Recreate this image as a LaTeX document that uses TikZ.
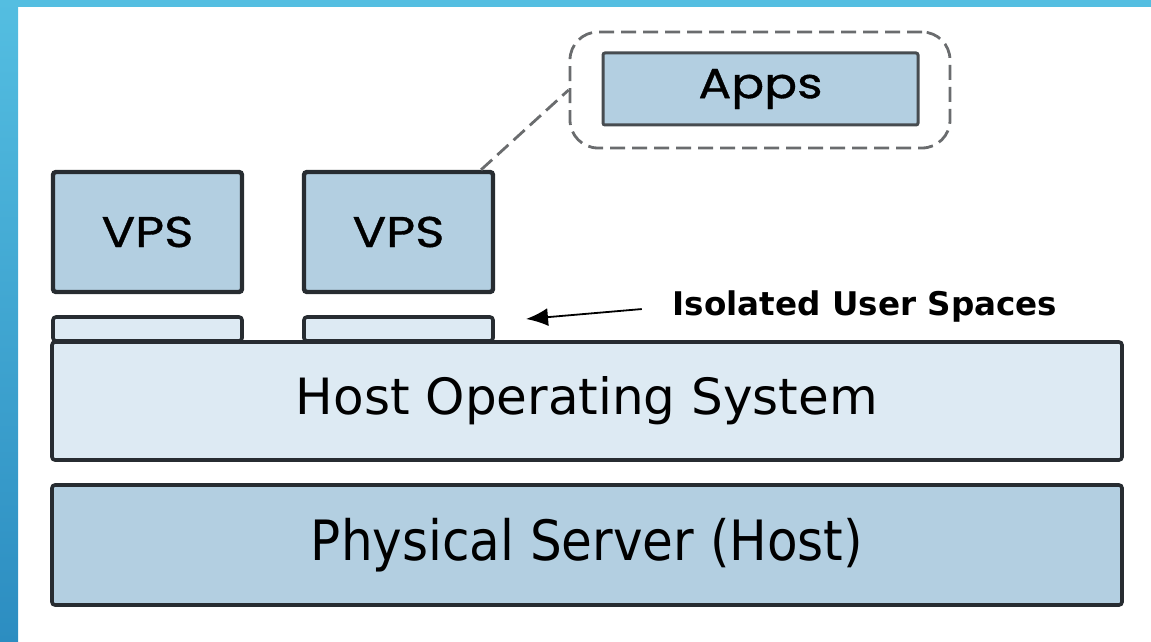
\documentclass[tikz,border=0pt]{standalone}
\usepackage{fontspec}
\usepackage{tikz}
\setmainfont{DejaVu Sans}
\newfontfamily\boxfont[FakeStretch=1.16,FakeBold=0.8]{Poppins}
\newfontfamily\condfont{DejaVu Sans Condensed}
\newcommand*{\picW}{1151}
\newcommand*{\picH}{642}
\usetikzlibrary{positioning}
\usetikzlibrary{calc}
\usetikzlibrary{arrows.meta}
\definecolor{slideblue}{HTML}{54BEE1}
\definecolor{slidedeep}{HTML}{2C8DC1}
\definecolor{vpsfill}{HTML}{B3CFE1}
\definecolor{hostfill}{HTML}{DDEAF3}
\definecolor{edge}{HTML}{272C31}
\definecolor{dashgray}{HTML}{6A6C6E}
\tikzset{
  layer/.style={% wide host / server bars
    draw=edge,
    line width=1.8pt,
    rounded corners=1.5pt,
    minimum width=535pt,
    minimum height=59pt,
    inner sep=0pt
  },
  vpsbox/.style={
    draw=edge,
    fill=vpsfill,
    line width=2.2pt,
    rounded corners=1.5pt,
    minimum width=94.5pt,
    minimum height=60pt,
    inner sep=0pt,
    font=\boxfont\fontsize{21.5}{21.5}\selectfont
  },
  userspace/.style={
    draw=edge,
    fill=hostfill,
    line width=1.8pt,
    rounded corners=1.5pt,
    minimum width=94.5pt,
    minimum height=12pt,
    inner sep=0pt
  },
  groupline/.style={
    draw=dashgray,
    line width=1.4pt,
    dash pattern=on 7.5pt off 3.5pt
  },
  pointer/.style={
    -{Latex[length=11pt,width=9pt]},
    line width=0.9pt,
    draw=black
  }
}

\begin{document}
\begin{tikzpicture}[x=0.5pt,y=-0.5pt]
    \useasboundingbox (0,0) rectangle (\picW,\picH);
    % slide frame
    \shade [top color=slideblue,bottom color=slidedeep] (0,0) rectangle (18,\picH);
    \fill [slideblue] (0,0) rectangle (\picW,7);

    % two containers, each on its own user space
    \foreach \n/\cx in {1/147.5,2/398.5} {
        \node [userspace] (us\n) at (\cx,329) {};
        \node [vpsbox] (vps\n) at (\cx,232) {VPS};
    }

    \node [layer,fill=hostfill,font=\fontsize{25}{25}\selectfont] (host) at (587,401) {Host Operating System};
    \node [layer,fill=vpsfill,minimum height=60pt,font=\condfont\fontsize{27.8}{27.8}\selectfont] (server) at (587,545) {Physical Server (Host)};

    % what runs inside one VPS
    \node [groupline,rounded corners=14pt,minimum width=190pt,minimum height=58pt] (inside) at (760,90) {};
    \node [draw=edge!85,fill=vpsfill,line width=1.5pt,rounded corners=1pt,minimum width=157.5pt,minimum height=36pt,
           font=\boxfont\fontsize{21}{21}\selectfont] (apps) at (760.5,89) {Apps};
    \draw [groupline] (vps2.37) -- (inside.west);

    \node [font=\bfseries\fontsize{16.3}{16.3}\selectfont] (iso) at (865,307) {Isolated User Spaces};
    \coordinate (tip) at (526,319);
    \draw [pointer,shorten <=12pt] (iso.west) -- (tip);
\end{tikzpicture}
\end{document}
